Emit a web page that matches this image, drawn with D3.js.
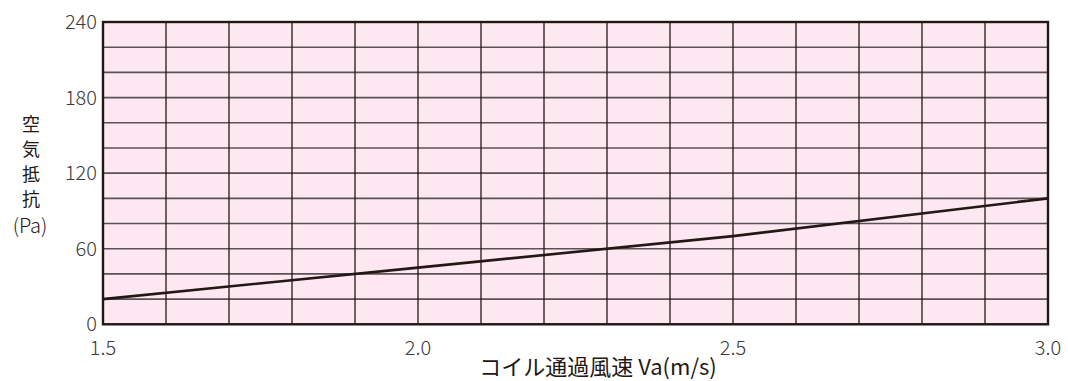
<!DOCTYPE html>
<html><head><meta charset="utf-8">
<script src="https://cdn.jsdelivr.net/npm/d3@7"></script>
<style>
html,body{margin:0;padding:0;background:#fff;}
text{font-family:"Noto Sans CJK JP","Noto Sans",sans-serif;}
</style></head>
<body><svg id="c" width="1068" height="381"></svg>
<script>
const velocity = [1.5, 2.0, 2.5, 3.0];
const resistance = [20, 45, 70, 100];
const xTickLabels = ["1.5", "2.0", "2.5", "3.0"];
const yTickLabels = [0, 60, 120, 180, 240];
const yTitleChars = ["空", "気", "抵", "抗"];
const yTitleUnit = "(Pa)";
const xTitle = "コイル通過風速 Va(m/s)";

const svg = d3.select("#c");
const L = 103, R = 1048, T = 22, B = 324.3;
const x = d3.scaleLinear().domain([1.5, 3.0]).range([L, R]);
const y = d3.scaleLinear().domain([0, 240]).range([B, T]);

svg.append("rect").attr("x", L).attr("y", T).attr("width", R - L).attr("height", B - T).attr("fill", "#fde8f1");

const xGrid = d3.range(15, 31).map(d => d / 10);
const yGrid = d3.range(0, 241, 20);
svg.append("g").selectAll("line").data(yGrid).join("line")
  .attr("x1", L).attr("x2", R).attr("y1", d => y(d)).attr("y2", d => y(d))
  .attr("stroke", "#5a5254").attr("stroke-width", 1.6);
svg.append("g").selectAll("line").data(xGrid).join("line")
  .attr("y1", T).attr("y2", B).attr("x1", d => x(d)).attr("x2", d => x(d))
  .attr("stroke", "#231815").attr("stroke-width", 1.3);

svg.append("rect").attr("x", L).attr("y", T).attr("width", R - L).attr("height", B - T)
  .attr("fill", "none").attr("stroke", "#231815").attr("stroke-width", 2.4);

const line = d3.line().x((d, i) => x(velocity[i])).y(d => y(d));
svg.append("path").attr("d", line(resistance)).attr("fill", "none")
  .attr("stroke", "#231815").attr("stroke-width", 2.6);

// y tick labels
svg.append("g").selectAll("text").data(yTickLabels).join("text")
  .attr("x", 97).attr("y", d => y(d) - (d === 0 ? 1 : 0)).attr("dy", "0.36em").attr("text-anchor", "end")
  .attr("font-size", 20).attr("font-weight", 300).attr("fill", "#3a3a3a").text(d => d);

// x tick labels
svg.append("g").selectAll("text").data(xTickLabels).join("text")
  .attr("x", d => x(+d)).attr("y", 348).attr("dy", "0.36em").attr("text-anchor", "middle")
  .attr("font-size", 20).attr("font-weight", 300).attr("fill", "#3a3a3a").text(d => d);

// y title
svg.append("g").selectAll("text").data(yTitleChars).join("text")
  .attr("x", 31).attr("y", (d, i) => 125 + i * 25).attr("dy", "0.36em").attr("text-anchor", "middle")
  .attr("font-size", 18).attr("fill", "#231815").text(d => d);
svg.append("text").attr("x", 30).attr("y", 226).attr("dy", "0.36em").attr("text-anchor", "middle")
  .attr("font-size", 20).attr("font-weight", 300).attr("fill", "#231815").text(yTitleUnit);

// x title
svg.append("text").attr("x", 598).attr("y", 367).attr("dy", "0.36em").attr("text-anchor", "middle")
  .attr("font-size", 22).attr("fill", "#231815").text(xTitle);
</script></body></html>
